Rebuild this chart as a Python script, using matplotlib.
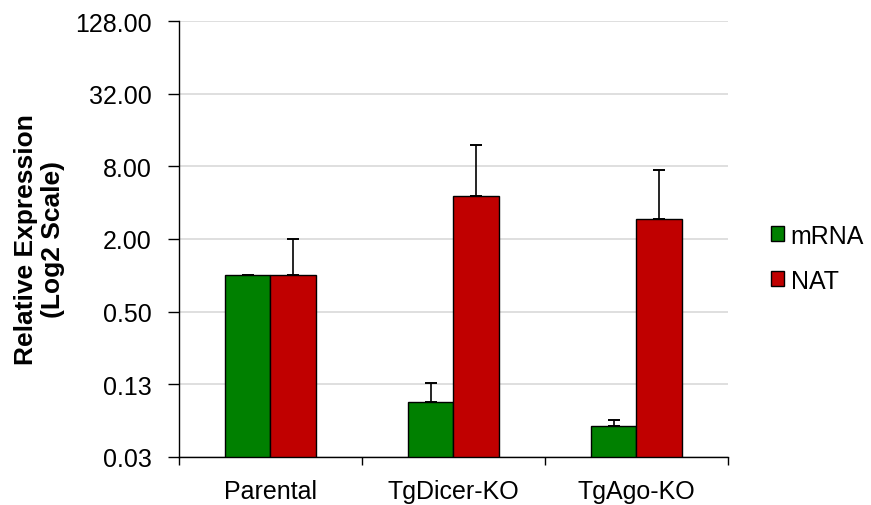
import numpy as np
import matplotlib
matplotlib.use("Agg")
import matplotlib.pyplot as plt
from matplotlib.ticker import FixedLocator, NullFormatter

plt.rcParams['font.family'] = ['Liberation Sans', 'DejaVu Sans']

# Expression data (relative to parental)
categories = ["Parental", "TgDicer-KO", "TgAgo-KO"]
mrna = [1.0, 0.09, 0.0565]
mrna_err = [0.0, 0.038, 0.007]
nat = [1.0, 4.55, 2.95]
nat_err = [1.0, 7.45, 4.5]
series_names = ["mRNA", "NAT"]

y_ticks = [2**-5, 2**-3, 2**-1, 2**1, 2**3, 2**5, 2**7]
y_tick_labels = ["0.03", "0.13", "0.50", "2.00", "8.00", "32.00", "128.00"]

FS = 18
fig = plt.figure(figsize=(8.71, 5.06), dpi=100)
ax = fig.add_axes([0.2055, 0.0949, 0.6303, 0.8616])

ymin, ymax = y_ticks[0], y_ticks[-1]
ax.set_yscale("log", base=2)
ax.set_ylim(ymin, ymax)
ax.set_xlim(-0.5, len(categories) - 0.5)

x = np.arange(len(categories))
w = 0.25
green = "#008000"
red = "#C00000"

err_kw = dict(ecolor="black", elinewidth=1.2, capthick=1.4, capsize=4.6)
ax.bar(x - w / 2, np.array(mrna) - ymin, w, bottom=ymin, color=green,
       edgecolor="black", linewidth=1.0, label=series_names[0], zorder=3,
       yerr=[np.zeros(len(mrna)), mrna_err], error_kw=err_kw)
ax.bar(x + w / 2, np.array(nat) - ymin, w, bottom=ymin, color=red,
       edgecolor="black", linewidth=1.0, label=series_names[1], zorder=3,
       yerr=[np.zeros(len(nat)), nat_err], error_kw=err_kw)

# y axis
ax.yaxis.set_major_locator(FixedLocator(y_ticks))
ax.yaxis.set_minor_locator(FixedLocator([]))
ax.set_yticklabels(y_tick_labels)
ax.tick_params(axis="y", which="major", direction="out", length=8, width=1,
               pad=11.5, labelsize=FS, colors="black")
ax.grid(axis="y", color="#d9d9d9", linewidth=1.2, zorder=0)
ax.set_axisbelow(True)

# x axis: labels at category centres, tick marks between categories
ax.set_xticks(x)
ax.set_xticklabels(categories)
ax.tick_params(axis="x", which="major", length=0, pad=16, labelsize=FS)
ax.xaxis.set_minor_locator(FixedLocator(np.arange(-0.5, len(categories), 1.0)))
ax.xaxis.set_minor_formatter(NullFormatter())
ax.tick_params(axis="x", which="minor", direction="out", length=6, width=1)

for s in ["top", "right"]:
    ax.spines[s].set_visible(False)
for s in ["left", "bottom"]:
    ax.spines[s].set_color("black")
    ax.spines[s].set_linewidth(1.0)

ax.set_ylabel("Relative Expression\n(Log2 Scale)", fontsize=19,
              fontweight="bold", linespacing=1.2)
ax.yaxis.set_label_coords(-0.207, 0.5)

leg = ax.legend(loc="center left", bbox_to_anchor=(1.055, 0.456), frameon=False,
                fontsize=FS, handlelength=0.55, handleheight=0.55,
                handletextpad=0.25, labelspacing=0.83, borderpad=0)
for h in leg.legend_handles:
    h.set_edgecolor("black")
    h.set_linewidth(1.0)

fig.savefig("out.png", dpi=100)
